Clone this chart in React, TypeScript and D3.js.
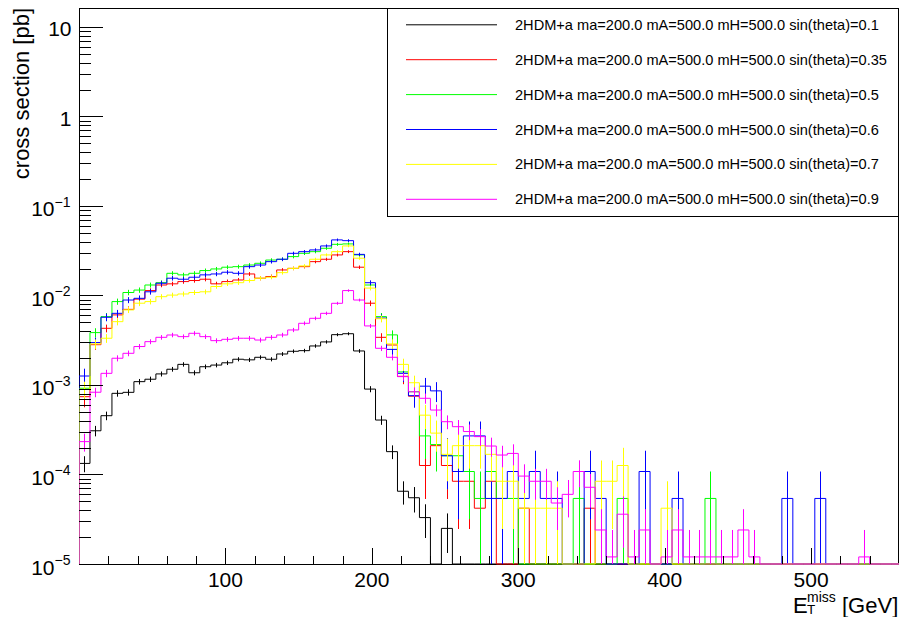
import React from "react";
import * as d3 from "d3";

const BIN_WIDTH = 7.5;
const X_DOMAIN: [number, number] = [0, 560];
const Y_DOMAIN: [number, number] = [1e-5, 16.3];

const legendLabels = [
  "2HDM+a ma=200.0 mA=500.0 mH=500.0 sin(theta)=0.1",
  "2HDM+a ma=200.0 mA=500.0 mH=500.0 sin(theta)=0.35",
  "2HDM+a ma=200.0 mA=500.0 mH=500.0 sin(theta)=0.5",
  "2HDM+a ma=200.0 mA=500.0 mH=500.0 sin(theta)=0.6",
  "2HDM+a ma=200.0 mA=500.0 mH=500.0 sin(theta)=0.7",
  "2HDM+a ma=200.0 mA=500.0 mH=500.0 sin(theta)=0.9",
];
const seriesColors = ["#000000", "#ff0000", "#00ff00", "#0000ff", "#ffff00", "#ff00ff"];
// cross section carried by one MC event, per sample (sets the Poisson error bars)
const eventWeights = [5.5e-6, 4.2e-5, 5.4e-5, 5.4e-5, 4.2e-5, 1.2e-5];

// cross section [pb] per 7.5 GeV bin
const sinTheta01 = [
  1.33e-4, 3.08e-4, 4.54e-4, 8.07e-4, 8.28e-4, 1.09e-3, 1.16e-3, 1.33e-3, 1.5e-3, 1.7e-3,
  1.37e-3, 1.6e-3, 1.67e-3, 1.77e-3, 1.94e-3, 1.91e-3, 2.04e-3, 1.94e-3, 2.22e-3, 2.38e-3,
  2.42e-3, 2.73e-3, 3.03e-3, 3.65e-3, 3.74e-3, 2.4e-3, 9.0e-4, 4.06e-4, 1.8e-4, 6.5e-5,
  5.5e-5, 3.3e-5, 0, 2.5e-5, 0, 0, 0, 0, 0, 0,
  0, 0, 0, 0, 0, 0, 0, 0, 0, 0,
  0, 0, 0, 0, 0, 0, 0, 0, 0, 0,
  0, 0, 0, 0, 0, 0, 0, 0, 0, 0,
  0, 0, 0, 0, 0,
];
const sinTheta035 = [
  7.4e-4, 2.82e-3, 4.3e-3, 6.07e-3, 7.0e-3, 9.1e-3, 1.135e-2, 1.31e-2, 1.35e-2, 1.43e-2,
  1.47e-2, 1.52e-2, 1.35e-2, 1.43e-2, 1.49e-2, 1.74e-2, 1.56e-2, 1.63e-2, 1.93e-2, 2.01e-2,
  2.1e-2, 2.39e-2, 2.54e-2, 2.84e-2, 3.09e-2, 2.07e-2, 8.2e-3, 3.41e-3, 2.8e-3, 1.25e-3,
  7.5e-4, 1.26e-4, 2.1e-4, 1.26e-4, 8.4e-5, 8.4e-5, 4.2e-5, 8.4e-5, 0, 0,
  4.2e-5, 0, 0, 0, 0, 0, 4.2e-5, 0, 0, 0,
  0, 0, 0, 0, 0, 0, 0, 0, 0, 0,
  0, 0, 0, 0, 0, 0, 0, 0, 0, 0,
  0, 0, 0, 0, 0,
];
const sinTheta05 = [
  9.2e-4, 3.85e-3, 5.81e-3, 8.55e-3, 1.08e-2, 1.15e-2, 1.31e-2, 1.39e-2, 1.77e-2, 1.7e-2,
  1.77e-2, 1.9e-2, 1.98e-2, 2.07e-2, 2.1e-2, 2.19e-2, 2.29e-2, 2.49e-2, 2.54e-2, 2.72e-2,
  2.96e-2, 3.09e-2, 3.37e-2, 3.73e-2, 3.77e-2, 2.84e-2, 1.31e-2, 5.81e-3, 3.63e-3, 1.4e-3,
  8.4e-4, 2.7e-4, 2.16e-4, 1.62e-4, 1.62e-4, 1.08e-4, 5.4e-5, 1.08e-4, 5.4e-5, 5.4e-5,
  0, 0, 0, 0, 0, 5.4e-5, 0, 0, 0, 5.4e-5,
  0, 0, 0, 0, 0, 0, 0, 5.4e-5, 0, 0,
  0, 0, 0, 0, 0, 0, 0, 0, 0, 0,
  0, 0, 0, 0, 0,
];
const sinTheta06 = [
  1.26e-3, 2.98e-3, 5.71e-3, 6.32e-3, 8.9e-3, 9.3e-3, 1.1e-2, 1.37e-2, 1.56e-2, 1.52e-2,
  1.6e-2, 1.7e-2, 1.74e-2, 1.82e-2, 1.77e-2, 2.1e-2, 2.19e-2, 2.39e-2, 2.54e-2, 2.96e-2,
  3.09e-2, 3.23e-2, 3.58e-2, 4.18e-2, 4.1e-2, 2.88e-2, 1.39e-2, 5.6e-3, 2.5e-3, 1.35e-3,
  7.6e-4, 9.7e-4, 8.6e-4, 1.62e-4, 1.08e-4, 2.7e-4, 2.7e-4, 5.4e-5, 5.4e-5, 1.08e-4,
  5.4e-5, 1.08e-4, 5.4e-5, 5.4e-5, 0, 0, 1.08e-4, 5.4e-5, 0, 0,
  0, 1.08e-4, 0, 0, 5.4e-5, 0, 0, 0, 0, 0,
  0, 0, 0, 0, 5.4e-5, 0, 0, 5.4e-5, 0, 0,
  0, 0, 0, 0, 0,
];
const sinTheta07 = [
  8.95e-4, 2.88e-3, 3.33e-3, 5.1e-3, 6.9e-3, 8.2e-3, 8.55e-3, 9.7e-3, 1.01e-2, 1.04e-2,
  1.08e-2, 1.1e-2, 1.26e-2, 1.35e-2, 1.39e-2, 1.47e-2, 1.56e-2, 1.6e-2, 1.8e-2, 2.01e-2,
  2.14e-2, 2.54e-2, 2.84e-2, 3.09e-2, 3.58e-2, 2.61e-2, 1.21e-2, 5.5e-3, 2.88e-3, 1.7e-3,
  1.06e-3, 4.6e-4, 2.9e-4, 1.68e-4, 2.1e-4, 2.1e-4, 2.1e-4, 1.68e-4, 8.4e-5, 8.4e-5,
  4.2e-5, 4.2e-5, 4.2e-5, 4.2e-5, 0, 0, 0, 8.4e-5, 8.4e-5, 1.26e-4,
  0, 0, 0, 4.2e-5, 0, 0, 0, 0, 0, 0,
  0, 0, 0, 0, 0, 0, 0, 0, 0, 0,
  0, 0, 0, 0, 0,
];
const sinTheta09 = [
  2.33e-4, 8.3e-4, 1.35e-3, 1.99e-3, 2.26e-3, 2.69e-3, 3.05e-3, 3.41e-3, 3.62e-3, 3.47e-3,
  3.78e-3, 3.47e-3, 3.13e-3, 3.24e-3, 3.33e-3, 3.33e-3, 3.18e-3, 3.41e-3, 3.62e-3, 4.12e-3,
  4.89e-3, 5.56e-3, 6.32e-3, 8.18e-3, 1.135e-2, 8.9e-3, 4.57e-3, 2.57e-3, 2.04e-3, 1.24e-3,
  8.4e-4, 7.1e-4, 5.25e-4, 3.89e-4, 3.42e-4, 3.02e-4, 2.65e-4, 2.08e-4, 1.65e-4, 1.72e-4,
  9.6e-5, 8.4e-5, 8.4e-5, 4.8e-5, 6.0e-5, 1.08e-4, 7.2e-5, 2.4e-5, 1.2e-5, 3.6e-5,
  1.2e-5, 2.4e-5, 0, 1.2e-5, 2.4e-5, 1.2e-5, 1.2e-5, 1.2e-5, 1.2e-5, 1.2e-5,
  2.4e-5, 1.2e-5, 0, 0, 0, 0, 0, 0, 0, 0,
  0, 1.2e-5, 0, 0, 0,
];

const seriesValues = [sinTheta01, sinTheta035, sinTheta05, sinTheta06, sinTheta07, sinTheta09];

const xMajorTicks = [100, 200, 300, 400, 500];
const xMinorStep = 20;
const yDecades = [-5, -4, -3, -2, -1, 0, 1];

const FONT = "'Liberation Sans', Arial, Helvetica, sans-serif";

export default function App() {
  const W = 902;
  const H = 617;
  const L = 79, R = 899, T = 8, B = 564;

  const x = d3.scaleLinear().domain(X_DOMAIN).range([L, R]);
  const y = d3.scaleLog().domain(Y_DOMAIN).range([B, T]);
  const yc = (v: number) => (v > Y_DOMAIN[0] ? y(v) : B);

  const line = d3
    .line<[number, number]>()
    .x((d) => d[0])
    .y((d) => d[1])
    .curve(d3.curveStepAfter);

  const histPath = (vals: number[]) => {
    const pts: [number, number][] = [[x(0), B]];
    vals.forEach((v, i) => pts.push([x(i * BIN_WIDTH), yc(v)]));
    const n = vals.length;
    pts.push([x(n * BIN_WIDTH), yc(vals[n - 1])]);
    pts.push([x(n * BIN_WIDTH), B]);
    return line(pts) || "";
  };

  const xMinor = d3.range(xMinorStep, X_DOMAIN[1], xMinorStep).filter((t) => t % 100 !== 0);
  const yMinor: number[] = [];
  yDecades.forEach((k) => {
    for (let m = 2; m <= 9; m++) {
      const v = m * Math.pow(10, k);
      if (v <= Y_DOMAIN[1]) yMinor.push(v);
    }
  });

  const legendRowY = (i: number) => 24.8 + i * 34.9;

  return (
    <svg
      width={W}
      height={H}
      style={{ position: "absolute", left: 0, top: 0, background: "#fff" }}
      fontFamily={FONT}
    >
      <rect x={0} y={0} width={W} height={H} fill="#fff" />
      <defs>
        <clipPath id="plotClip">
          <rect x={L} y={T} width={R - L} height={B - T + 1} />
        </clipPath>
      </defs>

      {/* frame */}
      <rect
        x={L + 0.5}
        y={T + 0.5}
        width={R - L - 1}
        height={B - T - 0.5}
        fill="none"
        stroke="#000"
        strokeWidth={1}
        shapeRendering="crispEdges"
      />

      {/* histograms */}
      <g clipPath="url(#plotClip)">
        {seriesValues.map((vals, si) => (
          <g key={si} stroke={seriesColors[si]} strokeWidth={1} fill="none">
            <path d={histPath(vals)} />
            {vals.map((v, i) => {
              if (v <= 0) return null;
              const err = Math.sqrt(v * eventWeights[si]);
              const cx = Math.round(x((i + 0.5) * BIN_WIDTH)) + 0.5;
              return (
                <line key={i} x1={cx} x2={cx} y1={yc(v - err)} y2={yc(v + err)} />
              );
            })}
          </g>
        ))}
      </g>

      {/* axis ticks */}
      <g stroke="#000" strokeWidth={1} shapeRendering="crispEdges">
        {xMajorTicks.map((t) => (
          <line key={"M" + t} x1={Math.round(x(t)) + 0.5} x2={Math.round(x(t)) + 0.5} y1={B} y2={B - 16} />
        ))}
        {xMinor.map((t) => (
          <line key={"m" + t} x1={Math.round(x(t)) + 0.5} x2={Math.round(x(t)) + 0.5} y1={B} y2={B - 8} />
        ))}
        {yDecades.map((k) => {
          const yy = Math.round(y(Math.pow(10, k))) + 0.5;
          return <line key={"Y" + k} x1={L} x2={L + 24} y1={yy} y2={yy} />;
        })}
        {yMinor.map((v, i) => {
          const yy = Math.round(y(v)) + 0.5;
          return <line key={"y" + i} x1={L} x2={L + 12} y1={yy} y2={yy} />;
        })}
      </g>

      {/* x tick labels */}
      <g fontSize={21} fill="#000" textAnchor="middle">
        {xMajorTicks.map((t) => (
          <text key={t} x={x(t)} y={586.5}>
            {t}
          </text>
        ))}
      </g>

      {/* y tick labels */}
      <g fontSize={21} fill="#000" textAnchor="end">
        {yDecades.map((k) => {
          const yy = y(Math.pow(10, k));
          if (k === 0)
            return (
              <text key={k} x={71.5} y={yy + 9.5}>
                1
              </text>
            );
          if (k === 1)
            return (
              <text key={k} x={71.5} y={yy + 9.5}>
                10
              </text>
            );
          return (
            <text key={k} x={70.5} y={yy + 10.5}>
              10
              <tspan fontSize={14} dy={-9.5}>
                {"\u2212" + Math.abs(k)}
              </tspan>
            </text>
          );
        })}
      </g>

      {/* y title */}
      <text
        transform="translate(29,8) rotate(-90)"
        textAnchor="end"
        fontSize={22}
        fill="#000"
      >
        cross section [pb]
      </text>

      {/* x title: E_T^miss [GeV] */}
      <text x={793} y={612.5} fontSize={22} fill="#000">
        E
        <tspan x={807} y={601.5} fontSize={14}>
          miss
        </tspan>
        <tspan x={807} y={614} fontSize={13.5}>
          T
        </tspan>
        <tspan x={842} y={612.5} fontSize={22}>
          [GeV]
        </tspan>
      </text>

      {/* legend */}
      <rect
        x={387.5}
        y={8.5}
        width={R - 388}
        height={208}
        fill="#fff"
        stroke="#000"
        strokeWidth={1}
        shapeRendering="crispEdges"
      />
      {legendLabels.map((lab, i) => {
        const ly = legendRowY(i);
        return (
          <g key={i}>
            <line x1={406} x2={497} y1={ly} y2={ly} stroke={seriesColors[i]} strokeWidth={1} />
            <text x={515} y={ly + 5} fontSize={14.6} fill="#000">
              {lab}
            </text>
          </g>
        );
      })}
    </svg>
  );
}
